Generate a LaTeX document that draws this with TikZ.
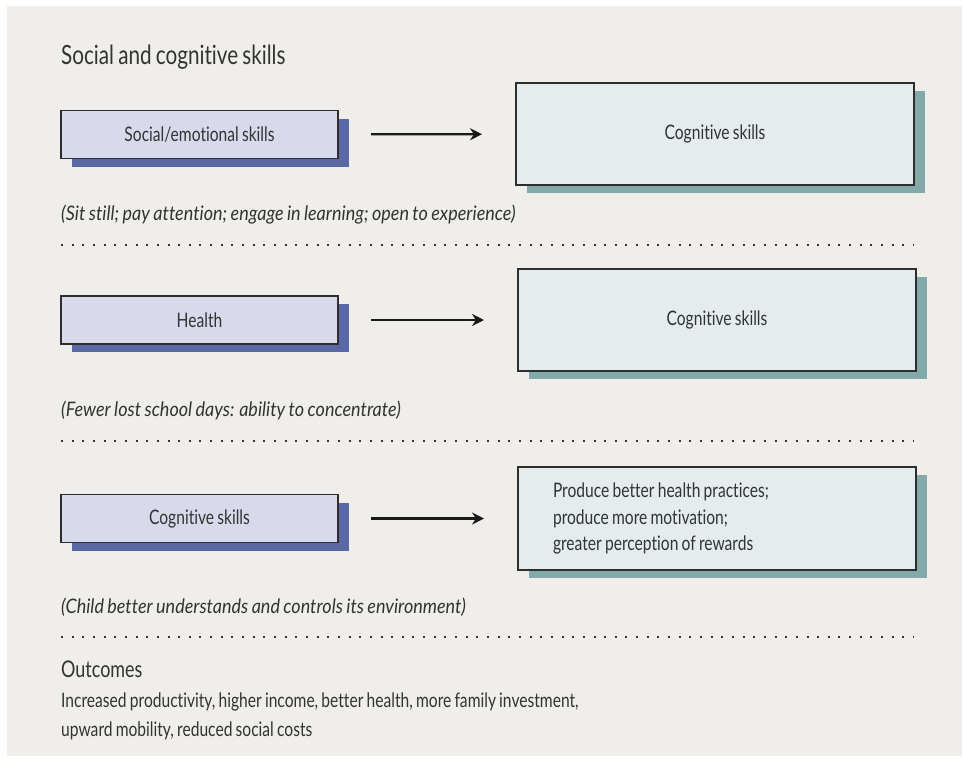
\documentclass[tikz,border=0pt]{standalone}
\usepackage{fontspec}
\setmainfont{Lato}[FakeStretch=0.78, WordSpace=0.8, Ligatures=NoCommon, ItalicFeatures={FakeStretch=0.9}]
\usetikzlibrary{shadows,arrows.meta}
\definecolor{bg}{HTML}{EFEEEA}
\definecolor{lavfill}{HTML}{D9D9EC}
\definecolor{lavshadow}{HTML}{5A68A6}
\definecolor{tealfill}{HTML}{E4ECEE}
\definecolor{tealshadow}{HTML}{83A9A9}
\definecolor{ink}{HTML}{333333}
\definecolor{edge}{HTML}{2E2E2E}
\begin{document}
\begin{tikzpicture}[x=1pt,y=-1pt,
  leftbox/.style={draw=edge, line width=1.5pt, fill=lavfill, minimum width=277pt, minimum height=48pt,
    inner sep=0pt, outer sep=0pt, font=\fontsize{20}{24}\selectfont, text=ink,
    drop shadow={shadow xshift=11pt, shadow yshift=-8pt, fill=lavshadow, opacity=1}},
  rightbox/.style={draw=edge, line width=1.5pt, fill=tealfill, minimum width=398pt, minimum height=102pt,
    inner sep=0pt, outer sep=0pt, font=\fontsize{20}{26.5}\selectfont, text=ink,
    drop shadow={shadow xshift=11pt, shadow yshift=-8pt, fill=tealshadow, opacity=1}},
  flow/.style={line width=2.2pt, draw=black!90, -{Stealth[length=12pt,width=12pt,inset=4pt]}, shorten <=33pt, shorten >=34pt},
  caption/.style={anchor=base west, inner sep=0pt, font=\fontsize{20}{24}\selectfont\itshape, text=ink},
  heading/.style={anchor=base west, inner sep=0pt, text=ink},
  dotline/.style={line width=2pt, draw=black!80, dash pattern=on 2pt off 8.65pt},
]
\useasboundingbox (0,0) rectangle (964,760);
\fill[white] (0,0) rectangle (964,760);
\fill[bg] (7,6) rectangle (962,756);

\node[heading, font=\fontsize{26.5}{32}\selectfont] (title) at (61,65) {Social and cognitive skills};

% row 1
\node[leftbox] (l1) at (199.5,134.5) {Social/emotional skills};
\node[rightbox] (r1) at (715,134) {Cognitive skills};
\draw[flow] (l1) -- (r1);
\node[caption] (c1) at (61,220) {(Sit still; pay attention; engage in learning; open to experience)};
\draw[dotline] (61,245) -- (914,245);

% row 2
\node[leftbox] (l2) at (199.5,320) {Health};
\node[rightbox] (r2) at (717,320) {Cognitive skills};
\draw[flow] (l2) -- (r2);
\node[caption] (c2) at (61,416) {(Fewer lost school days: ability to concentrate)};
\draw[dotline] (61,441) -- (914,441);

% row 3
\node[leftbox] (l3) at (199.5,518.5) {Cognitive skills};
\node[rightbox, minimum height=103pt, text width=328pt, align=flush left] (r3) at (717,518.5)
  {Produce better health practices;\\produce more motivation;\\greater perception of rewards};
\draw[flow] (l3) -- (r3);
\node[caption] (c3) at (61,613) {(Child better understands and controls its environment)};
\draw[dotline] (61,637) -- (914,637);

% outcomes
\node[heading, font=\fontsize{23}{28}\selectfont] (out) at (61,677) {Outcomes};
\node[heading, font=\fontsize{20}{29}\selectfont, align=left, anchor=north west] (outtext) at (61,693)
  {Increased productivity, higher income, better health, more family investment,\\upward mobility, reduced social costs};
\end{tikzpicture}
\end{document}
